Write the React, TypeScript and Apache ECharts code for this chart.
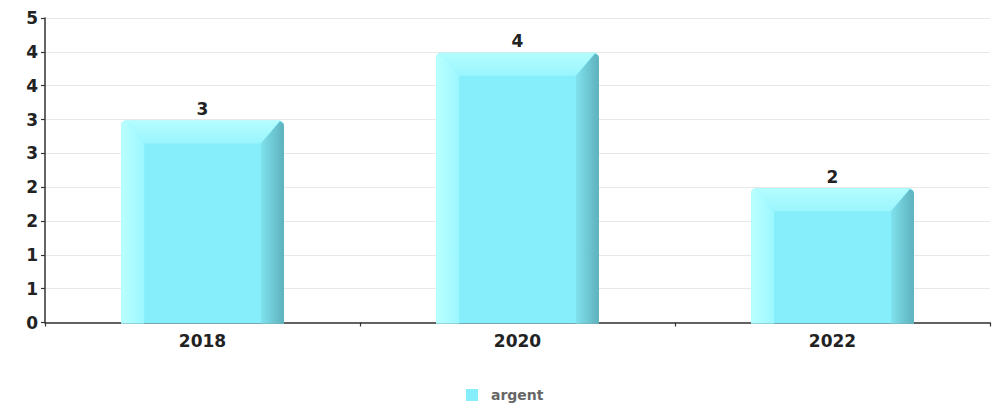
import React, { useEffect, useRef } from 'react';
import * as echarts from 'echarts';

const categories = ['2018', '2020', '2022'];
const values = [3, 4, 2];
const seriesName = 'argent';
const yMin = 0;
const yMax = 4.5;
const yInterval = 0.5;

const FONT = 'DejaVu Sans';

export default function App() {
  const ref = useRef<HTMLDivElement>(null);
  useEffect(() => {
    if (!ref.current) return;
    const chart = echarts.init(ref.current, null, { renderer: 'svg' });
    const data = values.map((v, i) => [i, v]);
    const option: any = {
      animation: false,
      backgroundColor: '#ffffff',
      grid: { left: 45, right: 6, top: 18, bottom: 84.5, containLabel: false },
      legend: {
        data: [seriesName],
        bottom: 0,
        left: 461,
        icon: 'rect',
        itemWidth: 12,
        itemHeight: 12,
        itemGap: 10,
        textStyle: { color: '#666', fontWeight: 'bold', fontSize: 14, fontFamily: FONT, padding: [0, 0, 0, 8] },
      },
      xAxis: {
        type: 'category',
        data: categories,
        boundaryGap: true,
        axisLine: { show: true, lineStyle: { color: '#333', width: 1.5 } },
        axisTick: { show: true, length: 4, lineStyle: { color: '#333', width: 1.2 } },
        axisLabel: { color: '#222', fontWeight: 'bold', fontSize: 17, fontFamily: FONT, margin: 10 },
        splitLine: { show: false },
      },
      yAxis: {
        type: 'value',
        min: yMin,
        max: yMax,
        interval: yInterval,
        axisLine: { show: true, lineStyle: { color: '#333', width: 1.5 } },
        axisTick: { show: true, length: 4, lineStyle: { color: '#333', width: 1.2 } },
        axisLabel: {
          color: '#222',
          fontWeight: 'bold',
          fontSize: 17,
          fontFamily: FONT,
          margin: 7,
          formatter: (v: number) => String(Math.round(v)),
        },
        splitLine: { show: true, lineStyle: { color: '#e8e8e8', width: 1 } },
      },
      series: [
        {
          name: seriesName,
          type: 'custom',
          itemStyle: { color: '#86EEFB' },
          data,
          z: 5,
          renderItem: (params: any, api: any) => {
            const idx = api.value(0);
            const v = api.value(1);
            const top = api.coord([idx, v]);
            const base = api.coord([idx, 0]);
            const band = api.size([1, 0])[0];
            const w = band * 0.517;
            const x0 = top[0] - w / 2;
            const x1 = top[0] + w / 2;
            const y0 = top[1] + 1;
            const yb = base[1] + 1;
            const b = 23;
            const LG = echarts.graphic.LinearGradient;
            return {
              type: 'group',
              children: [
                {
                  type: 'rect',
                  shape: { x: x0, y: y0, width: w, height: yb - y0, r: [5, 5, 0, 0] },
                  style: { fill: '#86EEFB' },
                },
                {
                  type: 'polygon',
                  shape: { points: [[x0 + 5, y0], [x1 - 4, y0], [x1 - b, y0 + b], [x0 + b, y0 + b]] },
                  style: { fill: new LG(0, 0, 0, 1, [{ offset: 0, color: '#b4fdff' }, { offset: 1, color: '#9af5fd' }]) },
                },
                {
                  type: 'polygon',
                  shape: { points: [[x0, y0 + 5], [x0 + 1.5, y0 + 1.5], [x0 + 5, y0], [x0 + b, y0 + b], [x0 + b, yb], [x0, yb]] },
                  style: { fill: new LG(0, 0, 1, 0, [{ offset: 0, color: '#baffff' }, { offset: 1, color: '#9cf7ff' }]) },
                },
                {
                  type: 'polygon',
                  shape: { points: [[x1 - 4, y0 + 1], [x1 - 1, y0 + 2.5], [x1, y0 + 5], [x1, yb], [x1 - b, yb], [x1 - b, y0 + b]] },
                  style: { fill: new LG(0, 0, 1, 0, [{ offset: 0, color: '#80e2ee' }, { offset: 1, color: '#5db1bc' }]) },
                },
                {
                  type: 'text',
                  style: {
                    text: String(v),
                    x: top[0],
                    y: y0 - 3,
                    align: 'center',
                    verticalAlign: 'bottom',
                    fill: '#222',
                    font: `bold 17px "${FONT}"`,
                  },
                },
              ],
            };
          },
        },
      ],
    };
    chart.setOption(option);
    return () => chart.dispose();
  }, []);
  return <div ref={ref} style={{ width: 996, height: 407, position: 'absolute', left: 0, top: 0 }} />;
}
